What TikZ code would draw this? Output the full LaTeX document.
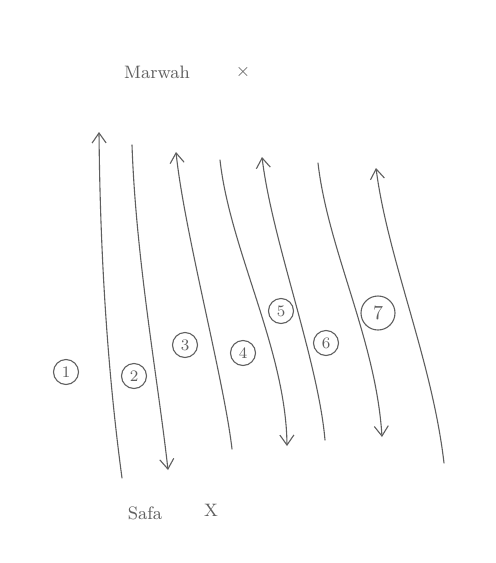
\documentclass[tikz,border=0pt]{standalone}
\usetikzlibrary{arrows.meta}
\definecolor{pencil}{RGB}{95,95,95}
\begin{document}
\begin{tikzpicture}[x=0.5pt,y=-0.5pt,
  pen/.style={draw=pencil, line width=0.55pt, line cap=round},
  tip/.style={-{Straight Barb[length=5pt,width=7pt,line width=0.55pt]}},
  num/.style={circle, draw=pencil, line width=0.55pt, inner sep=0pt, minimum size=12.5pt, font=\footnotesize, text=pencil},
  bignum/.style={num, minimum size=17pt, font=\normalsize},
  lbl/.style={text=pencil, font=\small}]
\useasboundingbox[fill=white] (0,0) rectangle (496,563);
% end points
\coordinate (t1) at (99,132);  \coordinate (b1) at (122,478);
\coordinate (t2) at (132,145); \coordinate (b2) at (168,470);
\coordinate (t3) at (176,152); \coordinate (b3) at (232,449);
\coordinate (t4) at (220,160); \coordinate (b4) at (287,446);
\coordinate (t5) at (262,157); \coordinate (b5) at (325,440);
\coordinate (t6) at (318,163); \coordinate (b6) at (382,437);
\coordinate (t7) at (376,168); \coordinate (b7) at (444,463);
% lines
\draw[pen,tip] (b1) .. controls (106,360) and (100,240) .. (t1);
\draw[pen,tip] (t2) .. controls (136,260) and (158,380) .. (b2);
\draw[pen,tip] (b3) .. controls (224,380) and (184,230) .. (t3);
\draw[pen,tip] (t4) .. controls (230,250) and (286,350) .. (b4);
\draw[pen,tip] (b5) .. controls (318,360) and (272,240) .. (t5);
\draw[pen,tip] (t6) .. controls (328,250) and (376,340) .. (b6);
\draw[pen,tip] (b7) .. controls (432,360) and (388,260) .. (t7);
% numbers
\node[num] (n1) at (66,372) {1};
\node[num] (n2) at (134,376) {2};
\node[num] (n3) at (185,345) {3};
\node[num] (n4) at (243,353) {4};
\node[num] (n5) at (281,311) {5};
\node[num] (n6) at (326,343) {6};
\node[bignum] (n7) at (378,313) {7};
% labels
\node[lbl] (marwah) at (157,72) {Marwah};
\node[lbl] (mx) at (243,72) {$\times$};
\node[lbl] (safa) at (145,513) {Safa};
\node[lbl] (sx) at (211,510) {X};
\end{tikzpicture}
\end{document}
